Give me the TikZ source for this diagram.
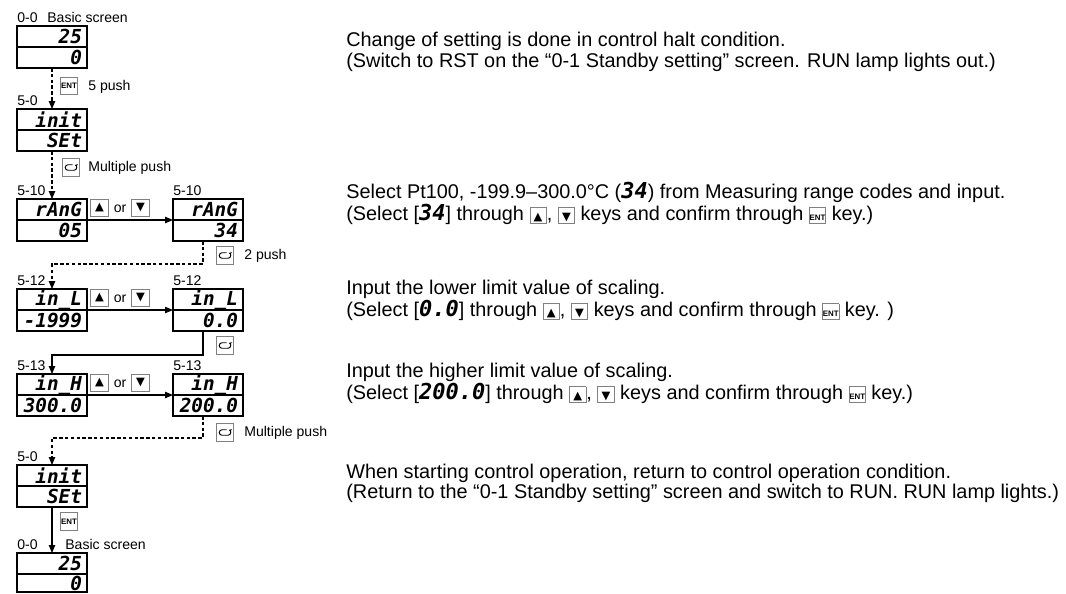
\documentclass[tikz,border=0pt]{standalone}
\usepackage{fontspec}
\setmainfont{Liberation Sans}
\newfontfamily\segfont{DejaVu Sans Mono}
\newfontfamily\symfont{DejaVu Sans}
\usetikzlibrary{arrows.meta,positioning}

\newcommand{\seg}[1]{{\segfont\bfseries\itshape\fontsize{12.5}{12}\selectfont #1}}
\newcommand{\upglyph}{{\symfont\fontsize{6.5}{6.5}\selectfont ▲}}
\newcommand{\downglyph}{{\symfont\fontsize{6.5}{6.5}\selectfont ▼}}
\newcommand{\entglyph}{{\fontsize{4.5}{5}\selectfont\bfseries ENT}}
\newcommand{\keyface}[1]{{\setlength{\fboxsep}{0pt}\setlength{\fboxrule}{0.5pt}\fcolorbox{gray}{white}{\makebox[0.31cm]{\rule[-0.05cm]{0pt}{0.3cm}#1}}}}
\newcommand{\loopicon}[1]{%
  \draw[line width=0.55pt, -{Stealth[length=1.6pt,width=2pt]}]
    ([shift={(0.03cm,0.055cm)}]#1.center) -- ([shift={(-0.06cm,0.055cm)}]#1.center)
    arc[start angle=90, end angle=270, radius=0.055cm]
    -- ([shift={(0.06cm,-0.055cm)}]#1.center)
    arc[start angle=-90, end angle=70, radius=0.055cm];}

\begin{document}
\begin{tikzpicture}[
    x=0.02cm, y=-0.02cm,
    display/.style={draw, line width=0.9pt, minimum width=1.4cm, minimum height=0.42cm, inner sep=0pt, outer sep=0pt, text width=1.2cm, align=right, font=\segfont\bfseries\itshape\fontsize{11}{11}\selectfont},
    keybtn/.style={draw=gray, fill=white, line width=0.6pt, minimum size=0.35cm, inner sep=0pt},
    tag/.style={font=\fontsize{8}{9}\selectfont, inner sep=0pt},
    boxtag/.style={tag, anchor=south west, yshift=1.8pt},
    desc/.style={anchor=west, align=left, inner sep=0pt, font=\fontsize{11.3}{11.6}\selectfont},
    flow/.style={line width=0.6pt, -{Triangle[length=4.5pt, width=3.6pt]}},
    flowdash/.style={flow, dash pattern=on 2pt off 1.3pt}
  ]
    \useasboundingbox (0,0) rectangle (1066,593);
    \clip (0,0) rectangle (1066,593);

    % Screens
    \node[display] (basic) at (52,36.5) {25};
    \node[display, below=0pt of basic] (basicv) {0};
    \node[display] (initA) at (52,119.5) {init};
    \node[display, below=0pt of initA] (initAv) {SEt};
    \node[display] (rangA) at (52,209.5) {rAnG};
    \node[display, below=0pt of rangA] (rangAv) {05};
    \node[display] (rangB) at (208,209.5) {rAnG};
    \node[display, below=0pt of rangB] (rangBv) {34};
    \node[display] (lowA) at (52,299.5) {in\_L};
    \node[display, below=0pt of lowA] (lowAv) {-1999};
    \node[display] (lowB) at (208,299.5) {in\_L};
    \node[display, below=0pt of lowB] (lowBv) {0.0};
    \node[display] (highA) at (52,384.5) {in\_H};
    \node[display, below=0pt of highA] (highAv) {300.0};
    \node[display] (highB) at (208,384.5) {in\_H};
    \node[display, below=0pt of highB] (highBv) {200.0};
    \node[display] (initB) at (52,475.5) {init};
    \node[display, below=0pt of initB] (initBv) {SEt};
    \node[display] (basicB) at (52,563.5) {25};
    \node[display, below=0pt of basicB, minimum height=0.36cm] (basicBv) {0};

    % Screen numbers
    \node[boxtag] (t00) at (basic.north west) {0-0};
    \node[boxtag, xshift=0.6cm] (tbas) at (basic.north west) {Basic screen};
    \node[boxtag] (t50) at (initA.north west) {5-0};
    \node[boxtag] (t510a) at (rangA.north west) {5-10};
    \node[boxtag] (t510b) at (rangB.north west) {5-10};
    \node[boxtag] (t512a) at (lowA.north west) {5-12};
    \node[boxtag] (t512b) at (lowB.north west) {5-12};
    \node[boxtag] (t513a) at (highA.north west) {5-13};
    \node[boxtag] (t513b) at (highB.north west) {5-13};
    \node[boxtag] (t50b) at (initB.north west) {5-0};
    \node[boxtag] (t00b) at (basicB.north west) {0-0};
    \node[boxtag, xshift=0.96cm] (tbasb) at (basicB.north west) {Basic screen};

    % Keys
    \node[keybtn] (ent1) at (69,86) {\entglyph};
    \node[tag, anchor=west] (push5) at (88,87) {5 push};
    \node[keybtn] (loop1) at (71,167.5) {};
    \loopicon{loop1}
    \node[tag, anchor=west] (multi1) at (88,167.5) {Multiple push};
    \foreach \y/\n in {208/a, 298/b, 383/c} {
      \node[keybtn] (up\n) at (99.5,\y) {\upglyph};
      \node[tag] (or\n) at (120,\y+1) {or};
      \node[keybtn] (dn\n) at (140.5,\y) {\downglyph};
    }
    \node[keybtn] (loop2) at (225,255.5) {};
    \loopicon{loop2}
    \node[tag, anchor=west] (push2) at (244,256) {2 push};
    \node[keybtn] (loop3) at (225,345.5) {};
    \loopicon{loop3}
    \node[keybtn] (loop4) at (225,432.5) {};
    \loopicon{loop4}
    \node[tag, anchor=west] (multi2) at (244,433) {Multiple push};
    \node[keybtn] (ent2) at (69,521.5) {\entglyph};

    % Connectors
    \draw[flowdash] (basicv.south) -- (initA.north);
    \draw[flowdash] (initAv.south) -- (rangA.north);
    \draw[flow] (rangA.south east) -- (rangB.south west);
    \draw[flowdash] ([xshift=-0.1cm]rangBv.south) -- ++(0,23) -| (lowA.north);
    \draw[flow] (lowA.south east) -- (lowB.south west);
    \draw[flow] ([xshift=-0.1cm]lowBv.south) -- ++(0,24) -| (highA.north);
    \draw[flow] (highA.south east) -- (highB.south west);
    \draw[flowdash] ([xshift=-0.1cm]highBv.south) -- ++(0,22) -| (initB.north);
    \draw[flow] (initBv.south) -- (basicB.north);

    % Notes
    \node[desc] (note1) at (346,52) {Change of setting is done in control halt condition.\\
      (Switch to RST on the “0-1 Standby setting” screen. RUN lamp lights out.)};
    \node[desc] (note2) at (346,203.5) {Select Pt100, -199.9–300.0°C (\seg{34}) from Measuring range codes and input.\\
      (Select [\seg{34}] through \keyface{\upglyph}, \keyface{\downglyph} keys and confirm through \keyface{\entglyph} key.)};
    \node[desc] (note3) at (346,300.5) {Input the lower limit value of scaling.\\
      (Select [\seg{0.0}] through \keyface{\upglyph}, \keyface{\downglyph} keys and confirm through \keyface{\entglyph} key. )};
    \node[desc] (note4) at (346,383.5) {Input the higher limit value of scaling.\\
      (Select [\seg{200.0}] through \keyface{\upglyph}, \keyface{\downglyph} keys and confirm through \keyface{\entglyph} key.)};
    \node[desc] (note5) at (346,483.5) {When starting control operation, return to control operation condition.\\
      (Return to the “0-1 Standby setting” screen and switch to RUN. RUN lamp lights.)};
  \end{tikzpicture}
\end{document}
